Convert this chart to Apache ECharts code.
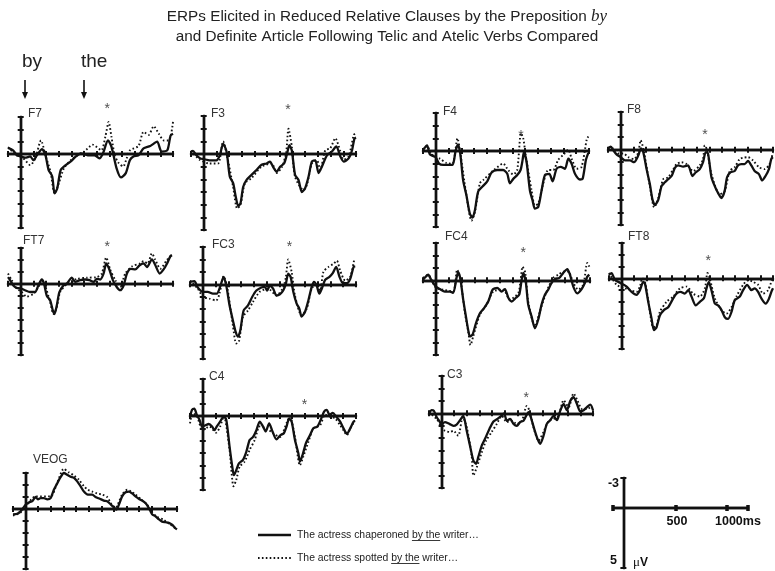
<!DOCTYPE html>
<html><head><meta charset="utf-8">
<script src="https://cdn.jsdelivr.net/npm/echarts@6/dist/echarts.min.js"></script>
<style>html,body{margin:0;padding:0;background:#fff}#c{width:775px;height:571px}</style>
</head><body><div id="c"></div>
<script>
// ---- data: [time ms, amplitude µV] (negative plotted up) ----
const panelNames = ['F7','F3','F4','F8','FT7','FC3','FC4','FT8','C4','C3','VEOG'];

const F7_solid = [[-100,-0.5],[-60,-0.3],[-30,0.1],[0,0.2],[35,0.3],[75,0.2],[100,0.5],[128,0.1],[168,-0.4],[195,0.1],[220,1.3],[248,1.8],[267,3.2],[288,2.8],[315,1.3],[355,0.9],[395,0.6],[435,0.2],[475,-0.05],[528,0.1],[580,0.1],[620,0.35],[648,-0.05],[688,-1.1],[715,-0.6],[755,1.15],[790,1.9],[828,1.55],[860,0.5],[888,0.2],[928,0.1],[968,-0.45],[1020,-0.65],[1075,-1.0],[1110,-0.2],[1155,-0.3],[1181,-1.5],[1200,-1.65]];
const F7_dotted = [[-100,-0.55],[-32,0.1],[21,0.35],[75,0.9],[115,0.35],[160,-1.1],[195,0.1],[235,1.45],[267,3.2],[301,2.35],[341,1.15],[395,0.5],[448,0.1],[501,-0.2],[568,-0.75],[635,-0.3],[667,-1.4],[693,-2.6],[715,-1.4],[741,0.1],[773,0.75],[808,1.0],[835,0.35],[861,-0.3],[928,-0.65],[968,-1.8],[1008,-1.55],[1048,-2.25],[1088,-1.65],[1128,-1.1],[1168,-1.1],[1200,-2.6]];

const F3_solid = [[-100,-0.2],[-85,-0.25],[-58,0.1],[-26,0.35],[0,0.4],[47,0.5],[100,0.5],[127,0.1],[153,-0.8],[180,-0.2],[206,1.8],[232,2.3],[253,3.4],[272,4.1],[290,3.9],[311,2.6],[338,2.05],[377,1.65],[417,1.25],[456,0.85],[496,0.75],[522,0.6],[549,1.05],[575,1.4],[602,1.0],[633,0.75],[654,0.1],[675,-0.7],[694,-0.3],[720,1.65],[747,2.05],[773,3.0],[799,2.7],[826,1.8],[852,0.6],[879,0.5],[905,1.5],[931,1.0],[971,0.1],[1010,-0.2],[1045,-0.6],[1077,0.2],[1103,0.6],[1142,0.35],[1169,-0.3],[1187,-1.2],[1200,-1.3]];
const F3_dotted = [[-100,-0.25],[-32,0.45],[47,0.75],[113,0.75],[153,-1.0],[185,0.2],[232,2.6],[264,4.3],[290,4.0],[325,2.3],[377,1.9],[456,1.0],[536,0.75],[575,1.5],[615,1.05],[649,-0.05],[668,-2.0],[694,-0.6],[720,1.8],[786,2.85],[813,2.45],[852,0.75],[892,0.5],[918,1.25],[958,-0.3],[997,-0.45],[1037,-1.25],[1077,-0.2],[1103,0.45],[1142,0.2],[1182,-1.5],[1195,-1.65]];

const F4_solid = [[-100,-0.1],[-78,-0.35],[-68,-0.45],[-47,0.25],[-21,0.4],[0,0.5],[26,1.0],[58,1.1],[97,1.1],[131,1.1],[157,-0.1],[175,-0.5],[193,0.3],[214,2.3],[240,3.5],[267,4.95],[288,5.25],[306,4.7],[332,3.2],[366,2.8],[403,2.4],[437,1.7],[481,1.5],[528,1.5],[560,1.8],[580,2.55],[607,2.2],[638,1.9],[664,1.5],[680,0.7],[690,0.1],[711,0.85],[737,3.1],[758,3.9],[776,4.55],[803,4.4],[829,3.1],[855,1.9],[889,1.8],[915,2.4],[946,1.4],[978,1.25],[1012,1.4],[1038,0.6],[1064,1.0],[1090,1.8],[1129,2.25],[1150,2.2],[1176,0.7],[1195,0.15]];
const F4_dotted = [[-100,-0.1],[-68,-0.4],[-34,0.25],[31,0.6],[84,0.95],[131,1.0],[170,-1.0],[193,0.2],[240,3.5],[280,5.5],[306,4.85],[345,2.55],[371,2.3],[450,1.55],[528,1.0],[567,1.5],[607,1.85],[638,1.5],[667,-1.4],[685,-1.0],[706,0.45],[750,3.1],[776,4.3],[803,4.15],[842,2.55],[881,1.5],[920,1.5],[959,0.7],[999,0.3],[1038,-0.1],[1064,0.6],[1103,1.4],[1142,1.25],[1182,-0.9],[1195,-1.15]];

const F8_solid = [[-100,-0.1],[-78,-0.25],[-58,0.05],[-31,0.4],[0,0.6],[34,0.85],[73,0.85],[105,1.0],[139,0.45],[160,-0.1],[178,0.2],[204,1.55],[230,2.75],[251,4.0],[270,4.4],[296,4.0],[322,2.9],[348,2.6],[374,2.35],[401,2.1],[427,1.45],[453,1.25],[492,1.35],[531,1.25],[565,2.1],[592,1.8],[623,1.55],[649,1.0],[670,0.2],[688,0.3],[715,2.2],[741,2.9],[767,3.45],[793,3.85],[819,3.3],[838,2.2],[864,1.8],[898,1.7],[924,1.25],[950,1.15],[976,1.15],[1003,0.9],[1029,1.25],[1055,1.7],[1089,1.95],[1115,2.45],[1141,2.1],[1168,1.55],[1186,0.75],[1199,0.6]];
const F8_dotted = [[-100,-0.1],[-58,-0.1],[-18,0.3],[21,0.3],[60,0.6],[105,0.75],[139,0.2],[157,-0.75],[178,-0.1],[230,2.9],[264,4.6],[296,3.85],[335,2.35],[374,2.2],[414,1.55],[440,1.15],[479,1.0],[518,1.15],[571,1.7],[623,1.25],[649,0.75],[662,-0.35],[681,0.05],[715,1.95],[780,3.55],[819,3.3],[859,1.7],[898,1.4],[937,0.75],[963,0.65],[1003,0.6],[1042,0.85],[1089,1.4],[1134,1.55],[1173,1.15],[1199,0.25]];

const FT7_solid = [[-100,-0.55],[-84,-0.3],[-58,0.15],[-32,0.35],[0,0.4],[34,0.55],[74,0.7],[113,0.7],[139,0.15],[166,-0.35],[184,0.0],[205,1.0],[232,1.4],[253,2.25],[266,2.55],[284,1.85],[305,0.7],[337,0.15],[363,0.0],[403,-0.5],[429,-0.15],[468,-0.3],[508,-0.35],[542,-0.3],[574,-0.15],[600,-0.4],[626,-0.35],[653,-0.85],[674,-1.7],[700,-1.15],[726,-0.3],[758,0.3],[784,0.55],[811,0.15],[837,-0.85],[868,-1.25],[903,-1.2],[937,-1.55],[968,-1.7],[995,-1.4],[1034,-2.05],[1061,-1.55],[1095,-0.85],[1126,-1.2],[1153,-1.7],[1179,-2.3],[1192,-2.4]];
const FT7_dotted = [[-100,-0.85],[-71,-0.3],[-32,0.4],[8,0.7],[47,1.1],[100,0.85],[139,0.3],[166,-0.3],[192,0.15],[232,1.55],[258,2.55],[284,2.0],[311,0.7],[363,0.05],[442,-0.4],[521,-0.5],[600,-0.55],[639,-0.85],[674,-2.2],[705,-1.2],[745,-0.3],[784,0.25],[824,-0.85],[876,-1.45],[942,-1.7],[968,-1.9],[1000,-1.7],[1034,-2.55],[1061,-2.0],[1100,-1.25],[1153,-2.0],[1184,-2.35]];

const FC3_solid = [[-100,-0.2],[-66,-0.25],[-39,0.25],[0,0.6],[39,0.6],[79,0.75],[110,0.75],[136,0.2],[163,-0.6],[184,0.1],[210,1.7],[236,2.9],[257,3.8],[276,4.2],[294,3.7],[320,2.1],[354,1.7],[388,1.0],[420,0.5],[459,0.25],[486,0.2],[504,0.5],[525,0.1],[551,0.35],[577,0.9],[604,0.8],[630,0.5],[651,-0.05],[669,-0.85],[688,-0.6],[709,0.6],[735,1.55],[756,1.95],[774,2.6],[801,2.2],[827,1.3],[853,0.2],[871,-0.2],[892,0.1],[913,0.75],[932,0.35],[958,-0.35],[992,-0.6],[1018,-0.9],[1045,-1.4],[1071,-0.6],[1097,-0.1],[1129,-0.1],[1155,-0.45],[1181,-1.4],[1194,-1.45]];
const FC3_dotted = [[-100,-0.3],[-39,0.35],[0,1.0],[52,1.15],[105,1.3],[131,0.75],[163,-0.65],[189,0.1],[236,3.3],[262,4.75],[283,4.6],[315,2.6],[354,2.1],[394,1.4],[446,0.6],[512,0.35],[577,0.9],[630,0.25],[651,-0.6],[669,-2.0],[696,-1.0],[722,0.9],[774,2.5],[814,1.95],[853,0.35],[892,-0.05],[919,0.5],[945,-1.0],[984,-1.4],[1024,-1.65],[1050,-1.9],[1076,-1.1],[1115,-0.3],[1155,-0.6],[1186,-2.0]];

const FC4_solid = [[-100,-0.05],[-78,-0.3],[-60,-0.45],[-34,0.0],[0,0.5],[31,0.7],[70,0.9],[109,0.9],[135,1.0],[161,-0.2],[174,-0.65],[192,-0.05],[213,1.55],[234,2.9],[252,4.0],[265,4.5],[286,4.35],[312,3.45],[343,2.65],[374,2.25],[408,1.7],[442,0.75],[478,0.6],[512,0.9],[538,0.7],[564,1.4],[590,1.7],[623,1.4],[649,1.15],[668,-0.05],[681,-0.6],[701,0.2],[719,1.95],[745,2.9],[771,3.85],[797,3.15],[823,1.95],[849,1.15],[875,0.75],[901,0.2],[927,-0.1],[961,-0.2],[992,-0.6],[1023,-0.9],[1044,-0.45],[1070,0.5],[1101,1.05],[1135,0.7],[1161,0.2],[1179,-0.3],[1195,-0.45]];
const FC4_dotted = [[-100,-0.2],[-60,-0.45],[-34,-0.05],[0,0.6],[57,0.75],[135,0.9],[166,-0.85],[192,-0.05],[226,2.6],[252,4.1],[270,5.2],[291,4.5],[343,2.75],[395,1.95],[447,0.9],[525,0.75],[577,1.55],[642,1.0],[660,-0.05],[675,-1.1],[696,-0.6],[719,1.7],[771,3.7],[810,2.5],[862,0.9],[914,-0.2],[953,-0.45],[992,-0.7],[1031,-0.7],[1070,0.2],[1109,0.75],[1148,0.35],[1179,-1.4],[1195,-1.1]];

const FT8_solid = [[-100,-0.3],[-80,-0.45],[-53,0.15],[-26,0.3],[0,0.45],[40,0.7],[79,1.15],[119,1.4],[145,1.0],[172,0.3],[185,0.45],[211,2.0],[237,3.4],[256,4.4],[277,4.15],[303,3.15],[335,2.7],[369,2.45],[409,1.7],[435,1.3],[467,1.15],[501,1.3],[528,1.0],[554,1.55],[588,2.3],[620,2.0],[652,1.7],[673,0.85],[691,0.3],[712,1.0],[739,2.15],[765,2.3],[792,2.7],[818,3.3],[844,3.45],[871,2.85],[897,1.85],[937,1.55],[963,1.0],[995,0.55],[1029,1.0],[1055,0.85],[1082,1.15],[1108,1.7],[1142,2.15],[1169,1.7],[1187,1.15],[1200,0.85]];
const FT8_dotted = [[-100,-0.45],[-40,0.55],[26,0.85],[66,1.0],[119,1.15],[145,0.7],[164,0.0],[185,0.3],[211,1.85],[251,4.15],[277,4.0],[303,2.85],[356,2.0],[409,1.55],[462,0.85],[515,0.7],[567,1.3],[620,1.55],[660,0.85],[681,-0.45],[699,0.0],[739,1.7],[792,2.7],[831,3.0],[871,2.45],[910,1.55],[963,0.55],[1003,0.15],[1042,0.3],[1082,0.55],[1121,1.3],[1161,1.0],[1195,0.0]];

const C4_solid = [[-100,0.1],[-84,-0.5],[-66,-0.6],[-47,-0.1],[-26,0.3],[-5,0.85],[21,0.75],[47,0.65],[73,0.85],[92,1.15],[110,0.85],[136,0.45],[163,0.05],[184,0.3],[210,2.5],[231,4.1],[244,4.8],[262,4.4],[283,3.85],[315,3.55],[341,2.9],[367,1.95],[394,1.7],[420,1.15],[446,0.45],[472,0.85],[493,1.25],[520,0.6],[546,1.25],[577,1.9],[609,1.55],[635,1.4],[656,0.85],[677,0.2],[696,0.45],[722,1.95],[748,3.0],[761,3.7],[782,3.15],[808,2.2],[840,1.55],[866,1.0],[898,0.85],[924,0.3],[950,-0.35],[971,-0.5],[992,-0.1],[1018,-0.25],[1045,0.05],[1076,0.45],[1102,1.0],[1129,1.45],[1155,1.0],[1181,0.45],[1194,0.4]];
const C4_dotted = [[-100,0.6],[-79,-0.2],[-47,0.0],[0,1.15],[52,0.85],[105,1.35],[136,0.85],[165,0.0],[210,2.75],[241,5.7],[262,5.2],[289,4.1],[328,3.7],[367,2.75],[407,1.95],[446,0.85],[499,1.0],[551,1.4],[604,1.7],[661,0.45],[682,0.05],[722,1.7],[761,4.0],[787,3.3],[827,2.1],[866,1.0],[919,0.75],[958,-0.1],[997,0.05],[1037,0.2],[1076,0.75],[1102,1.15],[1129,1.55],[1155,1.0],[1186,0.45]];

const C3_solid = [[-100,0.0],[-79,-0.25],[-61,-0.2],[-40,0.3],[-13,0.7],[0,0.9],[26,0.7],[61,0.85],[93,1.0],[119,0.9],[146,0.55],[172,0.2],[199,1.4],[225,2.6],[252,3.8],[273,4.05],[291,3.5],[318,2.6],[344,2.05],[379,1.25],[411,0.65],[442,0.45],[469,0.25],[495,0.0],[517,0.6],[543,0.45],[570,0.85],[596,1.0],[623,0.7],[649,0.6],[670,0.2],[689,-0.1],[707,0.3],[734,1.25],[760,2.05],[781,2.45],[808,1.8],[834,0.85],[861,0.55],[887,0.2],[914,0.55],[940,-0.2],[967,-0.75],[993,-0.25],[1020,-1.0],[1046,-1.3],[1073,-0.75],[1099,-0.15],[1126,-0.25],[1152,-0.5],[1179,-0.7],[1200,-0.25]];
const C3_dotted = [[-100,-0.1],[-40,0.45],[0,1.1],[26,1.4],[66,1.5],[93,1.4],[132,1.8],[167,0.3],[199,1.1],[238,3.4],[252,5.0],[278,4.35],[318,3.15],[352,2.2],[397,1.5],[437,0.85],[477,0.2],[517,0.7],[556,0.6],[596,0.85],[636,0.6],[675,-0.6],[697,-0.2],[728,1.1],[768,2.2],[808,1.5],[848,0.6],[887,0.45],[927,0.2],[967,-1.05],[1007,-0.5],[1046,-1.6],[1078,-1.0],[1113,-0.35],[1152,-0.35],[1192,-0.6]];

const VEOG_solid = [[-100,0.45],[-66,0.4],[-40,0.2],[-18,-0.1],[0,-0.35],[26,-0.55],[53,-0.65],[79,-1.0],[98,-0.8],[119,-0.9],[145,-0.9],[172,-0.8],[198,-0.9],[224,-1.6],[251,-2.15],[277,-2.65],[303,-3.0],[330,-2.85],[356,-2.7],[383,-2.6],[409,-2.3],[435,-1.9],[462,-1.45],[493,-1.2],[528,-1.2],[554,-1.0],[588,-0.85],[620,-0.7],[646,-0.65],[678,-0.35],[704,-0.1],[720,0.05],[739,-0.35],[765,-1.05],[792,-1.4],[818,-1.45],[844,-1.3],[871,-1.05],[897,-0.85],[923,-0.7],[950,-0.5],[976,-0.1],[1003,0.45],[1029,0.6],[1055,0.85],[1082,1.05],[1108,1.1],[1135,1.15],[1161,1.3],[1187,1.6],[1200,1.7]];
const VEOG_dotted = [[-100,0.55],[-40,0.3],[0,-0.2],[79,-1.05],[198,-1.05],[251,-2.2],[303,-3.35],[343,-3.05],[383,-2.8],[422,-2.45],[462,-1.9],[493,-1.6],[528,-1.45],[567,-1.3],[607,-1.2],[646,-1.0],[678,-0.45],[712,-0.1],[765,-1.2],[805,-1.6],[836,-1.45],[871,-1.2],[910,-0.85],[963,-0.35],[1003,0.3],[1042,0.65],[1095,0.9],[1148,1.3],[1195,1.65]];

const solidSeries = [F7_solid,F3_solid,F4_solid,F8_solid,FT7_solid,FC3_solid,FC4_solid,FT8_solid,C4_solid,C3_solid,VEOG_solid];
const dottedSeries = [F7_dotted,F3_dotted,F4_dotted,F8_dotted,FT7_dotted,FC3_dotted,FC4_dotted,FT8_dotted,C4_dotted,C3_dotted,VEOG_dotted];

// significance markers (time ms, µV) per panel
const asteriskPanels = ['F7','F3','F4','F8','FT7','FC3','FC4','FT8','C4','C3'];
const asteriskTimes  = [682, 664, 668, 664, 682, 679, 680, 686, 797, 670];
const asteriskValues = [-3.9, -3.7, -1.4, -1.4, -3.3, -3.2, -2.4, -1.7, -1.15, -1.5];

const xTickStep = 100;   // ms
const yTickStep = 1;     // µV
const scaleXTicks = [-100, 500, 1000, 1200];
const scaleYTicks = [-3, 6];

// ---- layout (pixels) ----
const layout = {
  F7:  {left:8,   top:117, width:165, height:111, ymax:6, lx:28,  ly:114},
  F3:  {left:191, top:116, width:165, height:114, ymax:6, lx:211, ly:114},
  F4:  {left:423, top:113, width:166, height:114, ymax:6, lx:443, ly:112},
  F8:  {left:608, top:112, width:165, height:113, ymax:6, lx:627, ly:110},
  FT7: {left:8,   top:248, width:165, height:107, ymax:6, lx:23,  ly:241},
  FC3: {left:190, top:247, width:166, height:112, ymax:6, lx:212, ly:245},
  FC4: {left:423, top:243, width:167, height:112, ymax:6, lx:445, ly:237},
  FT8: {left:609, top:243, width:164, height:106, ymax:6, lx:628, ly:237},
  C4:  {left:190, top:379, width:166, height:111, ymax:6, lx:209, ly:377},
  C3:  {left:429, top:376, width:164, height:112, ymax:6, lx:447, ly:375},
  VEOG:{left:13,  top:473, width:164, height:96,  ymax:5, lx:33,  ly:460}
};

const FONT = '"Liberation Sans", Arial, Helvetica, sans-serif';
const INK = '#111';
const grids = [], xAxes = [], yAxes = [], series = [], graphics = [];

function addAxes(g, ymax, xTickVals, yTickVals) {
  const tickStyle = {color: INK, width: 2};
  const lineStyle = {color: INK, width: 2.4};
  ['bottom','top'].forEach(pos => {
    const ax = {type:'value', gridIndex:g, position:pos, min:-100, max:1200, interval:xTickStep,
      axisLabel:{show:false}, splitLine:{show:false},
      axisLine:{show:true, onZero:true, lineStyle},
      axisTick:{show:true, length:3, lineStyle:tickStyle}};
    if (xTickVals) ax.axisTick.customValues = xTickVals;
    xAxes.push(ax);
  });
  ['left','right'].forEach(pos => {
    const ay = {type:'value', gridIndex:g, position:pos, min:-3, max:ymax, interval:yTickStep, inverse:true,
      axisLabel:{show:false}, splitLine:{show:false},
      axisLine:{show:true, onZero:true, lineStyle},
      axisTick:{show:true, length:3, lineStyle:tickStyle}};
    if (yTickVals) ay.axisTick.customValues = yTickVals;
    yAxes.push(ay);
  });
}

panelNames.forEach((name, g) => {
  const L = layout[name];
  grids.push({left:L.left, top:L.top, width:L.width, height:L.height});
  addAxes(g, L.ymax);
  series.push({type:'line', name:name+' atelic', xAxisIndex:2*g, yAxisIndex:2*g, data:dottedSeries[g],
    showSymbol:false, smooth:0.25, clip:false, silent:true,
    lineStyle:{color:INK, width:1.9, type:[1.6,2.3]}});
  series.push({type:'line', name:name+' telic', xAxisIndex:2*g, yAxisIndex:2*g, data:solidSeries[g],
    showSymbol:false, smooth:0.25, clip:false, silent:true,
    lineStyle:{color:INK, width:2.3}});
  graphics.push({type:'text', x:L.lx, y:L.ly, silent:true,
    style:{text:name, font:'12px '+FONT, fill:'#333', textAlign:'left', textVerticalAlign:'middle'}});
});

// asterisks through panel axes
asteriskPanels.forEach((name, i) => {
  const g = panelNames.indexOf(name);
  series.push({type:'scatter', xAxisIndex:2*g, yAxisIndex:2*g, clip:false, silent:true,
    data:[[asteriskTimes[i], asteriskValues[i]]], symbolSize:1, itemStyle:{color:'rgba(0,0,0,0)'},
    label:{show:true, formatter:'*', position:'inside', offset:[0,3], fontSize:14, color:'#222', fontFamily:FONT}});
});

// scale bar grid
const sg = panelNames.length;
grids.push({left:613, top:478, width:135, height:90});
addAxes(sg, 6, scaleXTicks, scaleYTicks);
xAxes[2*sg].axisTick.lineStyle = {color:INK, width:3.5};
xAxes[2*sg+1].axisTick.lineStyle = {color:INK, width:3.5};

// title
graphics.push({type:'text', x:387, y:17, silent:true, style:{
  text:'{a|ERPs Elicited in Reduced Relative Clauses by the Preposition }{b|by}',
  textAlign:'center', textVerticalAlign:'middle',
  rich:{a:{font:'15.3px '+FONT, fill:'#222'}, b:{font:'italic 17px "Liberation Serif", "Times New Roman", serif', fill:'#222'}}}});
graphics.push({type:'text', x:387, y:37, silent:true, style:{
  text:'and Definite Article Following Telic and Atelic Verbs Compared',
  font:'15.3px '+FONT, fill:'#222', textAlign:'center', textVerticalAlign:'middle'}});

// "by" / "the" arrows
graphics.push({type:'text', x:22, y:62, silent:true, style:{text:'by', font:'19px '+FONT, fill:'#222', textAlign:'left', textVerticalAlign:'middle'}});
graphics.push({type:'text', x:81, y:62, silent:true, style:{text:'the', font:'19px '+FONT, fill:'#222', textAlign:'left', textVerticalAlign:'middle'}});
[25, 84].forEach(ax => {
  graphics.push({type:'line', silent:true, shape:{x1:ax, y1:80, x2:ax, y2:93}, style:{stroke:INK, lineWidth:1.6}});
  graphics.push({type:'polygon', silent:true, shape:{points:[[ax-3,92],[ax+3,92],[ax,99]]}, style:{fill:INK}});
});

// legend
const legendFont = '10.4px ' + FONT;
const ctx = document.createElement('canvas').getContext('2d');
ctx.font = legendFont;
const legendItems = [
  {pre:'The actress chaperoned ', u:'by the', post:' writer\u2026', y:535, dash:null},
  {pre:'The actress spotted ', u:'by the', post:' writer\u2026', y:558, dash:[1.6,2.3]}
];
legendItems.forEach(it => {
  graphics.push({type:'line', silent:true, shape:{x1:258, y1:it.y, x2:291, y2:it.y},
    style:{stroke:INK, lineWidth:it.dash?1.9:2.5, lineDash:it.dash||null}});
  graphics.push({type:'text', x:297, y:it.y, silent:true, style:{text:it.pre+it.u+it.post, font:legendFont, fill:'#222', textAlign:'left', textVerticalAlign:'middle'}});
  const x0 = 297 + ctx.measureText(it.pre).width;
  const w = ctx.measureText(it.u).width;
  graphics.push({type:'line', silent:true, shape:{x1:x0, y1:it.y+5.5, x2:x0+w, y2:it.y+5.5}, style:{stroke:'#222', lineWidth:0.9}});
});

// scale bar labels
const bold = 'bold 12.5px ' + FONT;
graphics.push({type:'text', x:619, y:484, silent:true, style:{text:'-3', font:bold, fill:INK, textAlign:'right', textVerticalAlign:'middle'}});
graphics.push({type:'text', x:617, y:561, silent:true, style:{text:'5', font:bold, fill:INK, textAlign:'right', textVerticalAlign:'middle'}});
graphics.push({type:'text', x:677, y:522, silent:true, style:{text:'500', font:bold, fill:INK, textAlign:'center', textVerticalAlign:'middle'}});
graphics.push({type:'text', x:715, y:522, silent:true, style:{text:'1000ms', font:bold, fill:INK, textAlign:'left', textVerticalAlign:'middle'}});
graphics.push({type:'text', x:633, y:563, silent:true, style:{text:'{m|\u03bc}{v|V}', textAlign:'left', textVerticalAlign:'middle',
  rich:{m:{font:'13px "Liberation Serif", serif', fill:INK}, v:{font:'bold 12px '+FONT, fill:INK}}}});

const chart = echarts.init(document.getElementById('c'), null, {renderer:'canvas'});
chart.setOption({
  animation:false,
  backgroundColor:'#fff',
  grid:grids, xAxis:xAxes, yAxis:yAxes, series:series,
  graphic:{elements:graphics}
});
</script></body></html>
